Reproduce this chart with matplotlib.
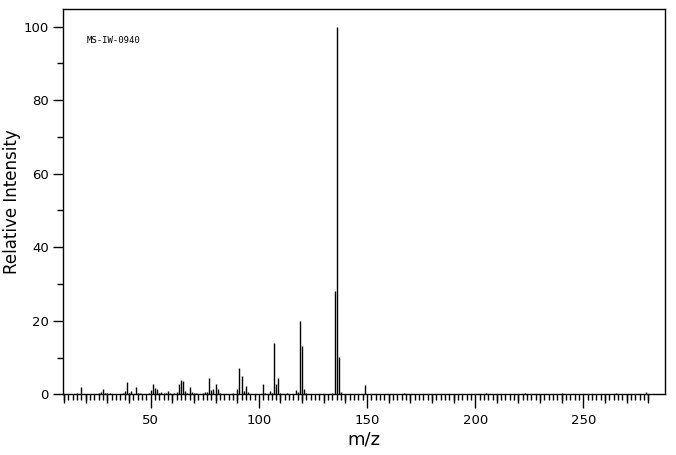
import numpy as np
import matplotlib
matplotlib.use("Agg")
import matplotlib.pyplot as plt
from matplotlib.ticker import MultipleLocator, FixedLocator

# peak list (m/z, relative intensity %)
mz = [16, 18, 26, 27, 28, 29, 30, 31, 37, 38, 39, 40, 41, 43, 44, 45,
      49, 50, 51, 52, 53, 54, 55, 56, 57, 58, 59, 61, 62, 63, 64, 65,
      66, 67, 68, 69, 70, 71, 74, 75, 76, 77, 78, 79, 80, 81, 82, 88,
      90, 91, 92, 93, 94, 95, 102, 103, 105, 106, 107, 108, 109, 110,
      113, 117, 118, 119, 120, 121, 122, 134, 135, 136, 137, 138, 149,
      167, 205, 223, 240, 265, 279]
intensity = [0.45, 2.0, 0.45, 0.7, 1.55, 0.45, 0.45, 0.45, 0.45, 0.9, 3.35, 0.45, 0.9, 1.9, 0.45, 0.45,
             0.45, 1.2, 2.9, 1.8, 1.5, 0.45, 0.65, 0.3, 0.35, 0.9, 0.3, 0.35, 0.6, 2.9, 3.9, 3.6,
             0.9, 0.35, 2.0, 0.6, 0.35, 0.35, 0.4, 0.6, 0.6, 4.4, 1.1, 1.45, 2.8, 1.4, 0.35, 0.35,
             1.4, 7.2, 5.1, 0.9, 2.35, 0.6, 2.7, 0.35, 0.8, 0.35, 14.0, 2.7, 4.3, 0.35,
             0.35, 1.2, 0.7, 19.9, 13.1, 1.4, 0.35, 0.35, 28.1, 100.0, 10.1, 0.7, 2.5,
             0.4, 0.3, 0.3, 0.3, 0.3, 0.7]

sample_id = "MS-IW-0940"
x_label = "m/z"
y_label = "Relative Intensity"

fig = plt.figure(figsize=(6.76, 4.55), dpi=100)
ax = fig.add_axes([0.0936, 0.1334, 0.8897, 0.8462])

ax.vlines(mz, 0, intensity, colors="black", linewidth=1.0)

ax.set_xlim(9.6, 287.6)
ax.set_ylim(0, 104.7)

# x ticks: labelled every 50, small every 2, medium every 10
ax.xaxis.set_major_locator(FixedLocator([50, 100, 150, 200, 250]))
ax.xaxis.set_minor_locator(FixedLocator(np.arange(10, 281, 2)))
ax.tick_params(axis="x", which="major", length=10, width=1.0, pad=4,
               labelsize=9.5, direction="out")
ax.tick_params(axis="x", which="minor", length=4.5, width=1.0, direction="out")
sec = ax.secondary_xaxis("bottom")
sec.set_xticks([t for t in range(10, 281, 10) if t % 50 != 0])
sec.tick_params(length=6.5, width=1.0, labelbottom=False, direction="out")
sec.spines["bottom"].set_visible(False)

ax.yaxis.set_major_locator(MultipleLocator(20))
ax.yaxis.set_minor_locator(MultipleLocator(10))
ax.tick_params(axis="y", which="major", length=7.5, width=1.0, pad=3,
               labelsize=9.5, direction="out")
ax.tick_params(axis="y", which="minor", length=4, width=1.0, direction="out")

for s in ax.spines.values():
    s.set_linewidth(1.0)

ax.set_xlabel(x_label, fontsize=13, labelpad=3)
ax.set_ylabel(y_label, fontsize=12, labelpad=2)

ax.text(0.039, 0.918, sample_id, transform=ax.transAxes, fontsize=6.5,
        family="DejaVu Sans Mono", va="center", ha="left")

fig.savefig("out.png", dpi=100, facecolor="white")
